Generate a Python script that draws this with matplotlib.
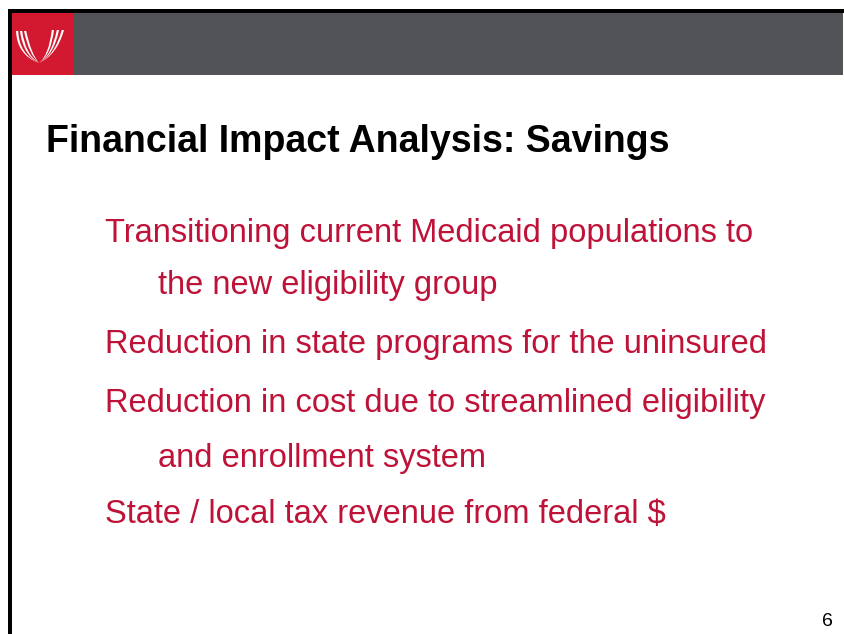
import matplotlib
matplotlib.use('Agg')
import matplotlib.pyplot as plt
from matplotlib.patches import Rectangle, PathPatch
from matplotlib.path import Path

# slide text
title = 'Financial Impact Analysis: Savings'
bullets = [
    'Transitioning current Medicaid populations to',
    'the new eligibility group',
    'Reduction in state programs for the uninsured',
    'Reduction in cost due to streamlined eligibility',
    'and enrollment system',
    'State / local tax revenue from federal $',
]
bullet_y = [242, 294, 353, 412, 467, 523]
bullet_x = [105, 158, 105, 105, 158, 105]
page_num = '6'

plt.rcParams['font.family'] = ['Liberation Sans', 'DejaVu Sans']

fig = plt.figure(figsize=(8.44, 6.34), dpi=100)
ax = fig.add_axes([0, 0, 1, 1])
ax.set_xlim(0, 844)
ax.set_ylim(634, 0)
ax.axis('off')

# header band and borders
ax.add_patch(Rectangle((8, 9), 836, 4, color='black', lw=0))
ax.add_patch(Rectangle((8, 9), 4, 625, color='black', lw=0))
ax.add_patch(Rectangle((12, 13), 831, 62, color='#515357', lw=0))
ax.add_patch(Rectangle((12, 13), 61, 62, color='#D2192F', lw=0))

# logo swooshes
def swoosh(x0, y0, x1, y1, cx, cy, w):
    verts = [(x0, y0), (cx, cy), (x1, y1),
             (cx + w, cy - w * 0.3), (x0 + w, y0), (x0, y0)]
    codes = [Path.MOVETO, Path.CURVE3, Path.CURVE3,
             Path.CURVE3, Path.CURVE3, Path.CLOSEPOLY]
    return PathPatch(Path(verts, codes), fc='white', ec='none')

ox, oy = 12, 13
for i, (sx, sy) in enumerate([(4, 18), (8, 18), (12, 18)]):
    ax.add_patch(swoosh(ox + sx, oy + sy, ox + 27, oy + 50,
                        ox + sx + 1 + i * 2, oy + 42, 2.2))
for i, (sx, sy) in enumerate([(42, 17), (47, 17), (52, 17)]):
    ax.add_patch(swoosh(ox + sx, oy + sy, ox + 27, oy + 50,
                        ox + sx - 3 - i * 2, oy + 42, -2.2))

ax.text(46, 152, title, fontsize=27, fontweight='bold', color='black',
        va='baseline', ha='left')

for txt, x, y in zip(bullets, bullet_x, bullet_y):
    ax.text(x, y, txt, fontsize=23.5, color='#BE1238',
            va='baseline', ha='left')

ax.text(833, 626, page_num, fontsize=14, color='black', va='baseline', ha='right')

fig.savefig('out.png', dpi=100)
